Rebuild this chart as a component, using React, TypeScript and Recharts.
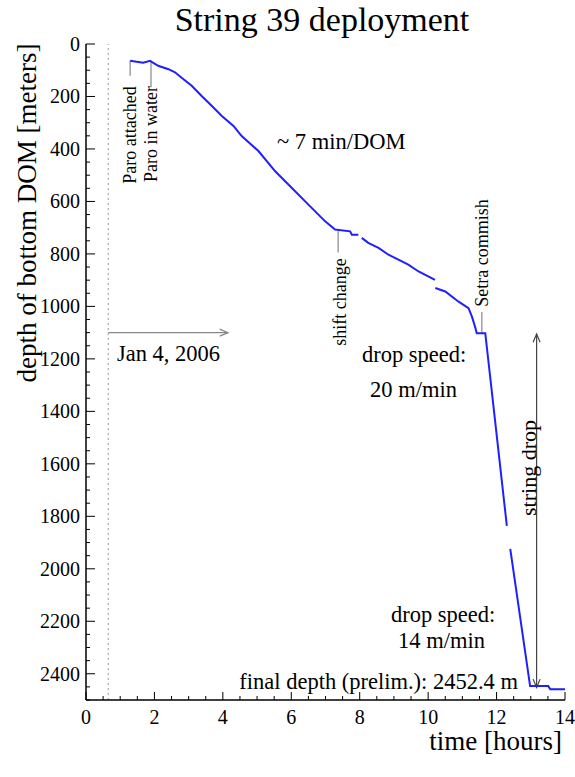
import { LineChart, Line, XAxis, YAxis, ReferenceLine } from "recharts";

// hours since start, bottom DOM depth in meters (null = gap in the record)
const HOURS = [
  1.29, 1.67, 1.87, 2.11, 2.41, 2.6, 2.85, 3.09, 3.38, 3.68, 3.97, 4.31, 4.55,
  5.04, 5.53, 6.01, 6.5, 6.99, 7.28, 7.72, 7.77, 7.96, 8.0, 8.06, 8.25, 8.55,
  8.84, 9.13, 9.42, 9.72, 10.2, 10.2, 10.21, 10.5, 10.89, 11.18, 11.28, 11.37,
  11.42, 11.67, 12.3, 12.35, 12.4, 12.98, 13.51, 13.57, 14.0,
];
const DEPTH = [
  64, 71, 64, 83, 96, 108, 134, 159, 198, 236, 274, 312, 351, 408, 485, 548,
  612, 676, 707, 714, 727, 727, null, 739, 758, 777, 803, 822, 841, 867, 899,
  null, 930, 943, 982, 1007, 1039, 1077, 1102, 1102, 1836, null, 1924, 2447,
  2447, 2459, 2459,
];

const X_TICKS = Array.from({ length: 29 }, (_, i) => i * 0.5);
const Y_TICKS = Array.from({ length: 51 }, (_, i) => i * 50);

const rows = HOURS.map((h, i) => ({ h, d: DEPTH[i] }));

const FONT = "'Liberation Serif', 'DejaVu Serif', serif";
const W = 575;
const H = 777;
// plot box
const L = 86;
const R = 565;
const T = 44;
const B = 700;

function LeftTick(props: any) {
  const v = props.payload.value;
  const major = v % 200 === 0;
  return (
    <g>
      <line x1={L} x2={L + (major ? 9 : 4)} y1={props.y} y2={props.y} stroke="#000" />
      {major && v <= 2400 && (
        <text x={80} y={props.y} textAnchor="end" dominantBaseline="central" fontSize={20} fontFamily={FONT} fill="#000">
          {v}
        </text>
      )}
    </g>
  );
}

function RightTick(props: any) {
  const v = props.payload.value;
  const major = v % 200 === 0;
  return <line x1={R} x2={R - (major ? 9 : 4)} y1={props.y} y2={props.y} stroke="#000" />;
}

function BottomTick(props: any) {
  const v = props.payload.value;
  const major = v % 2 === 0;
  return (
    <g>
      <line x1={props.x} x2={props.x} y1={B} y2={B - (major ? 8 : 4)} stroke="#000" />
      {major && (
        <text x={props.x} y={717} textAnchor="middle" dominantBaseline="central" fontSize={20} fontFamily={FONT} fill="#000">
          {v}
        </text>
      )}
    </g>
  );
}

function TopTick(props: any) {
  const v = props.payload.value;
  const major = v % 2 === 0;
  return <line x1={props.x} x2={props.x} y1={T} y2={T + (major ? 8 : 4)} stroke="#000" />;
}

function head(x1: number, y1: number, x2: number, y2: number) {
  const a = Math.atan2(y2 - y1, x2 - x1);
  const len = 9;
  const w = 0.4;
  return `M${x2 - len * Math.cos(a - w)},${y2 - len * Math.sin(a - w)} L${x2},${y2} L${x2 - len * Math.cos(a + w)},${y2 - len * Math.sin(a + w)}`;
}

function Arrow(props: any) {
  const { x1, y1, x2, y2, both } = props;
  return (
    <g>
      <line x1={x1} y1={y1} x2={x2} y2={y2} stroke={props.color} strokeWidth={1.2} />
      <path d={head(x1, y1, x2, y2)} fill="none" stroke={props.color} strokeWidth={1.2} />
      {both && <path d={head(x2, y2, x1, y1)} fill="none" stroke={props.color} strokeWidth={1.2} />}
    </g>
  );
}

function VText({ x, y, children, size = 18 }: any) {
  return (
    <text
      x={x}
      y={y}
      transform={`rotate(-90 ${x} ${y})`}
      textAnchor="middle"
      dominantBaseline="central"
      fontSize={size}
      fontFamily={FONT}
      fill="#000"
    >
      {children}
    </text>
  );
}

function Txt({ x, y, children, anchor = "start", size = 22.5 }: any) {
  return (
    <text x={x} y={y} textAnchor={anchor} fontSize={size} fontFamily={FONT} fill="#000">
      {children}
    </text>
  );
}

const seg = (x1: number, y1: number, x2: number, y2: number) => [
  { x: x1, y: y1 },
  { x: x2, y: y2 },
];

export default function App() {
  return (
    <div style={{ position: "absolute", left: 0, top: 0, width: W, height: H, background: "#fff" }}>
      <LineChart width={W} height={H} data={rows} margin={{ top: T, right: W - R, bottom: H - B - 30, left: L - 60 }}>
        <XAxis
          xAxisId="b"
          type="number"
          dataKey="h"
          domain={[0, 14]}
          ticks={X_TICKS}
          interval={0}
          height={30}
          axisLine={{ stroke: "#000", strokeWidth: 1.5 }}
          tickLine={false}
          tick={<BottomTick />}
        />
        <XAxis
          xAxisId="t"
          orientation="top"
          type="number"
          dataKey="h"
          domain={[0, 14]}
          ticks={X_TICKS}
          interval={0}
          height={0}
          axisLine={{ stroke: "#000" }}
          tickLine={false}
          tick={<TopTick />}
        />
        <YAxis
          yAxisId="l"
          type="number"
          domain={[0, 2500]}
          reversed
          ticks={Y_TICKS}
          interval={0}
          width={60}
          axisLine={{ stroke: "#000", strokeWidth: 1.5 }}
          tickLine={false}
          tick={<LeftTick />}
        />
        <YAxis
          yAxisId="r"
          orientation="right"
          type="number"
          domain={[0, 2500]}
          reversed
          ticks={Y_TICKS}
          interval={0}
          width={0}
          axisLine={{ stroke: "#000" }}
          tickLine={false}
          tick={<RightTick />}
        />
        <ReferenceLine xAxisId="b" yAxisId="l" x={0.65} stroke="#999" strokeDasharray="2 3" />
        <ReferenceLine
          xAxisId="b"
          yAxisId="l"
          segment={seg(0.65, 1100, 4.15, 1100)}
          shape={(p: any) => <Arrow {...p} color="#888" />}
        />
        <ReferenceLine
          xAxisId="b"
          yAxisId="l"
          segment={seg(13.17, 1105, 13.17, 2452)}
          shape={(p: any) => <Arrow {...p} color="#444" both />}
        />
        <ReferenceLine xAxisId="b" yAxisId="l" segment={seg(1.29, 64, 1.29, 121)} stroke="#888" strokeWidth={1.2} />
        <ReferenceLine xAxisId="b" yAxisId="l" segment={seg(1.9, 64, 1.9, 165)} stroke="#888" strokeWidth={1.2} />
        <ReferenceLine xAxisId="b" yAxisId="l" segment={seg(7.37, 712, 7.37, 795)} stroke="#888" strokeWidth={1.2} />
        <ReferenceLine xAxisId="b" yAxisId="l" segment={seg(11.57, 1021, 11.57, 1100)} stroke="#888" strokeWidth={1.2} />
        <Line
          xAxisId="b"
          yAxisId="l"
          type="linear"
          dataKey="d"
          stroke="#1f1fff"
          strokeWidth={2}
          dot={false}
          connectNulls={false}
          isAnimationActive={false}
        />
      </LineChart>
      <svg width={W} height={H} style={{ position: "absolute", left: 0, top: 0, pointerEvents: "none" }}>
        <Txt x={322} y={31} anchor="middle" size={34}>
          String 39 deployment
        </Txt>
        <VText x={27} y={213} size={27}>
          depth of bottom DOM [meters]
        </VText>
        <Txt x={562} y={750} anchor="end" size={27}>
          time [hours]
        </Txt>
        <Txt x={277} y={149}>~ 7 min/DOM</Txt>
        <Txt x={362} y={362}>drop speed:</Txt>
        <Txt x={370} y={397}>20 m/min</Txt>
        <Txt x={391} y={622}>drop speed:</Txt>
        <Txt x={398} y={648}>14 m/min</Txt>
        <Txt x={518} y={689} anchor="end">
          final depth (prelim.): 2452.4 m
        </Txt>
        <Txt x={117} y={361}>Jan 4, 2006</Txt>
        <VText x={130} y={135}>Paro attached</VText>
        <VText x={151} y={134}>Paro in water</VText>
        <VText x={340} y={302}>shift change</VText>
        <VText x={482} y={253}>Setra commish</VText>
        <VText x={528} y={468} size={22}>
          string drop
        </VText>
      </svg>
    </div>
  );
}
